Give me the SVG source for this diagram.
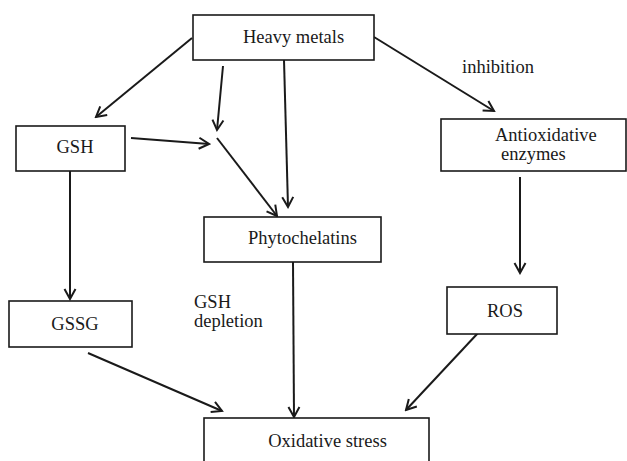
<svg xmlns="http://www.w3.org/2000/svg" width="627" height="461" viewBox="0 0 627 461">
<defs>
<marker id="arr" markerUnits="userSpaceOnUse" markerWidth="14" markerHeight="14" viewBox="0 0 14 14" refX="12" refY="7" orient="auto">
<path d="M2,1.5 L12,7 L2,12.5" fill="none" stroke="#1a1a1a" stroke-width="2"/>
</marker>
<style>
.box{fill:#fff;stroke:#1a1a1a;stroke-width:1.6}
.t{font-family:"Liberation Serif","Times New Roman",serif;font-size:18.5px;fill:#1a1a1a}
.c{fill:none;stroke:#1a1a1a;stroke-width:2;marker-end:url(#arr)}
</style>
</defs>
<rect width="627" height="461" fill="#fff"/>
<g id="connectors">
<line class="c" x1="192" y1="38" x2="96" y2="117"/>
<line class="c" x1="223" y1="66" x2="217" y2="130"/>
<line class="c" x1="284" y1="60" x2="288" y2="207"/>
<line class="c" x1="374" y1="37" x2="494" y2="111"/>
<line class="c" x1="131" y1="138" x2="209" y2="144"/>
<line class="c" x1="217" y1="138" x2="277" y2="216"/>
<line class="c" x1="70" y1="171" x2="70" y2="299"/>
<line class="c" x1="520" y1="177" x2="520" y2="273"/>
<line class="c" x1="293" y1="262" x2="294" y2="417"/>
<line class="c" x1="88" y1="353" x2="222" y2="411"/>
<line class="c" x1="478" y1="333" x2="406" y2="410"/>
</g>
<g id="heavy-metals"><rect class="box" x="193" y="15" width="181" height="45"/><text class="t" x="293.5" y="43" text-anchor="middle">Heavy metals</text></g>
<g id="inhibition-label"><text class="t" x="462" y="73">inhibition</text></g>
<g id="gsh"><rect class="box" x="16" y="126" width="109" height="45"/><text class="t" x="75" y="153" text-anchor="middle">GSH</text></g>
<g id="antioxidative-enzymes"><rect class="box" x="441" y="119" width="185" height="52"/><text class="t" x="495" y="141">Antioxidative</text><text class="t" x="501" y="160">enzymes</text></g>
<g id="phytochelatins"><rect class="box" x="204" y="217" width="177" height="45"/><text class="t" x="302.5" y="244" text-anchor="middle">Phytochelatins</text></g>
<g id="gsh-depletion-label"><text class="t" x="194" y="308">GSH</text><text class="t" x="194" y="327">depletion</text></g>
<g id="gssg"><rect class="box" x="9" y="301" width="123" height="46"/><text class="t" x="75" y="330" text-anchor="middle">GSSG</text></g>
<g id="ros"><rect class="box" x="447" y="287" width="110" height="47"/><text class="t" x="505" y="317" text-anchor="middle">ROS</text></g>
<g id="oxidative-stress"><rect class="box" x="204" y="418" width="225" height="60"/><text class="t" x="327.5" y="447" text-anchor="middle">Oxidative stress</text></g>
</svg>
